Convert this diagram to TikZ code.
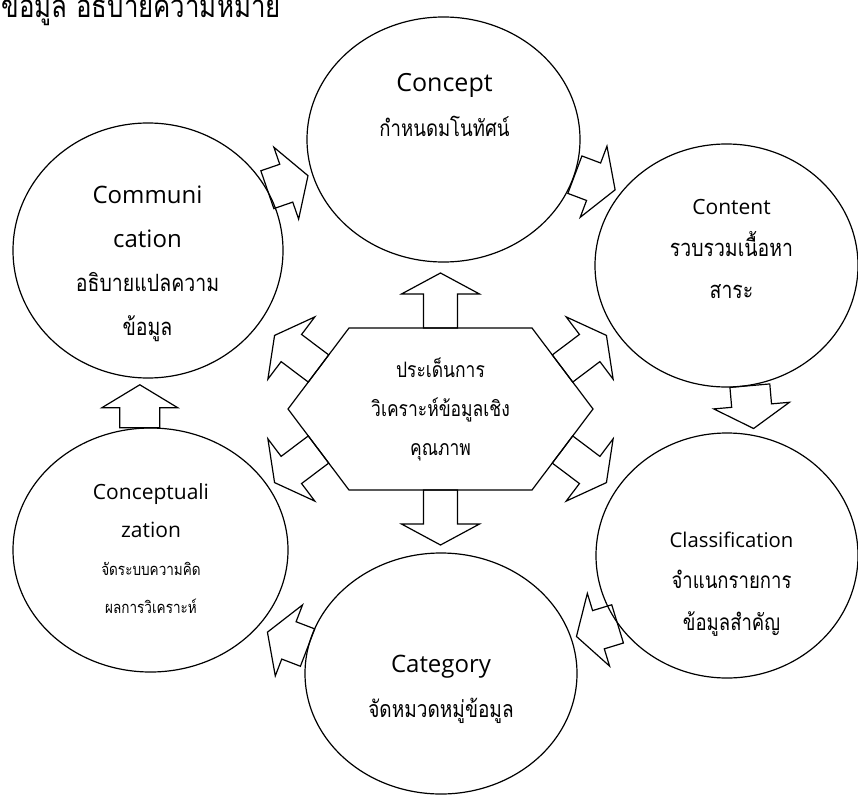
\documentclass[tikz,border=0pt]{standalone}
\usepackage{fontspec}
\setmainfont{Open Sans}
\newfontfamily\thaifont[Script=Thai, FakeStretch=0.82]{Loma}
\usetikzlibrary{positioning, shapes.geometric, calc}

\newcommand\thai[2]{{\thaifont\fontsize{#1}{#1}\selectfont #2}}

\tikzset{
  bubble/.style={ellipse, draw, inner sep=0pt},
  bubbletext/.style={align=center, anchor=base, inner sep=0pt},
  ringarrow/.pic={\draw (0,-20) -- (20,-20) -- (20,-38) -- (43,0) -- (20,38) -- (20,20) -- (0,20) -- cycle;},
  hexarrow/.pic={\draw (0,-17) -- (34,-17) -- (34,-39) -- (55,0) -- (34,39) -- (34,17) -- (0,17) -- cycle;}
}

\begin{document}
\begin{tikzpicture}[x=1pt, y=-1pt, line width=1.2pt]
        \useasboundingbox (0,0) rectangle (858,794);
        \clip (0,0) rectangle (858,794);

        % heading, cut at the top
        \node[anchor=base west, inner sep=0pt] (heading) at (1,18) {\thai{31.5}{ข้อมูล อธิบายความหมาย}};

        % outer bubbles
        \node[bubble, minimum width=273pt, minimum height=245pt] (concept) at (443.5,139.5) {};
        \node[bubble, minimum width=263pt, minimum height=243pt] (content) at (726.5,265.5) {};
        \node[bubble, minimum width=262pt, minimum height=245pt] (classif) at (727,555.5) {};
        \node[bubble, minimum width=272pt, minimum height=241pt] (category) at (441,673.5) {};
        \node[bubble, minimum width=275pt, minimum height=244pt] (concepz) at (150.5,550) {};
        \node[bubble, minimum width=270pt, minimum height=255pt] (comm) at (148,250.5) {};

        % bubble texts (placed at the baseline of their last line)
        \node[bubbletext, font=\fontsize{25}{45}\selectfont] (conceptlbl) at (444.5,137)
            {Concept\\\thai{22.6}{กำหนดมโนทัศน์}};
        \node[bubbletext, font=\fontsize{21}{42}\selectfont] (contentlbl) at (731.5,298)
            {Content\\\thai{23.7}{รวบรวมเนื้อหา}\\\thai{23.7}{สาระ}};
        \node[bubbletext, font=\fontsize{20.3}{41.5}\selectfont] (classiflbl) at (731.5,630)
            {Classification\\\thai{22.6}{จำแนกรายการ}\\\thai{22.6}{ข้อมูลสำคัญ}};
        \node[bubbletext, font=\fontsize{24}{45}\selectfont] (categorylbl) at (441,717)
            {Category\\\thai{23.2}{จัดหมวดหมู่ข้อมูล}};
        \node[bubbletext, font=\fontsize{21}{38}\selectfont] (concepzlbl) at (151,613)
            {Conceptuali\\zation\\\thai{16.5}{จัดระบบความคิด}\\\thai{16.5}{ผลการวิเคราะห์}};
        \node[bubbletext, font=\fontsize{24}{44}\selectfont] (commlbl) at (147.5,335)
            {Communi\\cation\\\thai{23.8}{อธิบายแปลความ}\\\thai{23.8}{ข้อมูล}};

        % centre hexagon
        \node[minimum width=305pt, minimum height=162pt, inner sep=0pt, outer sep=0pt,
              align=center, font=\thaifont\fontsize{21.3}{39}\selectfont] (hex) at (440.5,409)
            {ประเด็นการ\\วิเคราะห์ข้อมูลเชิง\\คุณภาพ};
        \coordinate (hexnw) at ([xshift=61pt]hex.north west);
        \coordinate (hexne) at ([xshift=-61pt]hex.north east);
        \coordinate (hexse) at ([xshift=-61pt]hex.south east);
        \coordinate (hexsw) at ([xshift=61pt]hex.south west);
        \draw (hexnw) -- (hexne) -- (hex.east) -- (hexse) -- (hexsw) -- (hex.west) -- cycle;

        \coordinate (hexul) at ($(hexnw)!.5!(hex.west)$);
        \coordinate (hexll) at ($(hexsw)!.5!(hex.west)$);
        \coordinate (hexur) at ($(hexne)!.5!(hex.east)$);
        \coordinate (hexlr) at ($(hexse)!.5!(hex.east)$);

        % arrows out of the hexagon
        \foreach \tail/\ang in {hex.north/90, hex.south/-90, hexul/143, hexll/217, hexur/37, hexlr/-37}{
                \pic[rotate=\ang] at (\tail) {hexarrow};
            }

        % arrows round the ring
        \foreach \tail/\ang in {comm.27/19, concept.-15/-20.6, content.-79/-85, classif.212/197, category.169/159, concepz.95/90}{
                \pic[rotate=\ang] at (\tail) {ringarrow};
            }

    \end{tikzpicture}
\end{document}
